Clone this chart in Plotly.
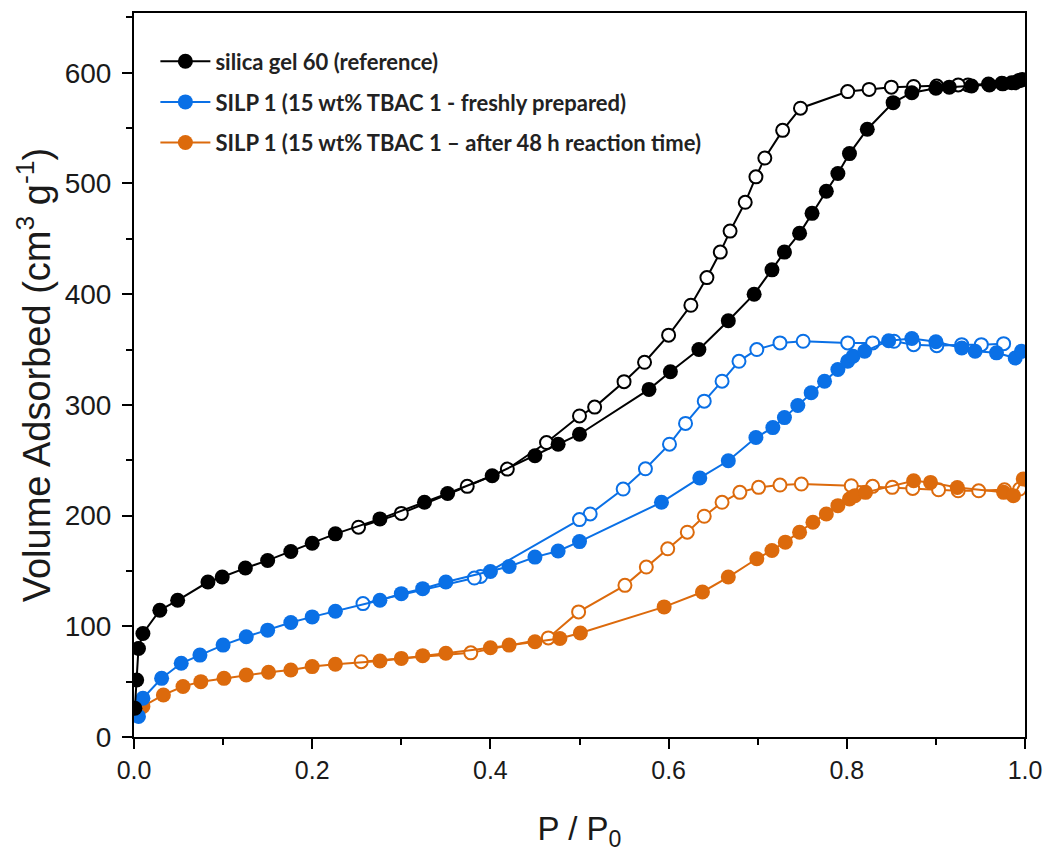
import plotly.graph_objects as go

# N2 physisorption isotherms: adsorption (filled) and desorption (open) branches
silica_ads_x = [0.001, 0.003, 0.005, 0.010, 0.029, 0.049, 0.083, 0.099, 0.125, 0.150, 0.176, 0.200,
                0.226, 0.276, 0.326, 0.352, 0.402, 0.450, 0.476, 0.500, 0.578, 0.602, 0.634, 0.667,
                0.696, 0.716, 0.730, 0.747, 0.761, 0.777, 0.790, 0.803, 0.823, 0.852, 0.873, 0.900,
                0.915, 0.940, 0.960, 0.975, 0.985, 0.993, 0.997]
silica_ads_y = [26, 51.5, 80, 93.5, 114.5, 123.5, 140, 144.5, 152.6, 159.5, 167.5, 175,
                183.5, 197, 212, 220, 236, 254, 264.5, 273.5, 314, 330, 350, 376,
                400, 422, 438, 455, 473, 493, 509, 527, 549, 573, 582, 586,
                587, 588, 589, 590, 591, 593, 594]
silica_des_x = [0.995, 0.989, 0.974, 0.959, 0.936, 0.925, 0.901, 0.875, 0.850, 0.825, 0.801, 0.748,
                0.728, 0.708, 0.698, 0.686, 0.669, 0.658, 0.643, 0.625, 0.600, 0.573, 0.550, 0.517,
                0.500, 0.463, 0.419, 0.374, 0.300, 0.252]
silica_des_y = [593, 591, 590.6, 589.8, 589, 589, 588, 587.6, 587, 585, 583, 568,
                548, 523, 506, 483, 457, 438, 415, 390, 363, 338.5, 321, 298,
                290, 266, 242, 226.4, 202, 189.5]

fresh_ads_x = [0.005, 0.010, 0.031, 0.053, 0.074, 0.100, 0.126, 0.150, 0.176, 0.200, 0.226, 0.276,
               0.300, 0.324, 0.350, 0.400, 0.421, 0.450, 0.476, 0.500, 0.592, 0.635, 0.667, 0.698,
               0.717, 0.730, 0.745, 0.760, 0.775, 0.790, 0.801, 0.807, 0.820, 0.847, 0.873, 0.900,
               0.929, 0.944, 0.968, 0.989, 0.996]
fresh_ads_y = [18.6, 35, 53, 66.6, 74, 83, 90.6, 96.5, 103.4, 108.5, 113.6, 123.5,
               129.5, 134, 140, 149.5, 154, 162.5, 168, 176.5, 212, 234, 249.5, 270.5,
               279.5, 288.5, 299.5, 311, 321.4, 332, 339.4, 344, 348.4, 358, 360, 357,
               351.4, 348.4, 347, 342.3, 348.4]
fresh_des_x = [0.976, 0.951, 0.929, 0.901, 0.875, 0.853, 0.829, 0.801, 0.751, 0.725, 0.699, 0.679,
               0.660, 0.640, 0.619, 0.601, 0.574, 0.549, 0.512, 0.500, 0.389, 0.382, 0.257]
fresh_des_y = [355.3, 354.4, 354.4, 353.5, 354.4, 357.5, 356, 356, 357.5, 356, 350, 339.4,
               321.4, 303.4, 283.3, 264.5, 242.3, 224, 201.5, 196.4, 145, 143.6, 120.5]

used_ads_x = [0.003, 0.010, 0.033, 0.055, 0.075, 0.101, 0.126, 0.151, 0.176, 0.200, 0.226, 0.276,
              0.300, 0.324, 0.350, 0.400, 0.421, 0.450, 0.478, 0.501, 0.595, 0.638, 0.667, 0.699,
              0.716, 0.731, 0.747, 0.762, 0.777, 0.790, 0.803, 0.809, 0.821, 0.875, 0.894, 0.924,
              0.976, 0.987, 0.998]
used_ads_y = [25, 27.6, 38, 45.6, 50, 53, 56, 58.5, 60.5, 63.6, 65.7, 68.6,
              71, 73.5, 75.6, 80.6, 83, 86, 89, 94, 117.5, 131, 144.5, 161,
              168.5, 176, 185, 194, 201.5, 209, 215, 218, 221, 231.5, 230, 225.4,
              221, 218, 233]
used_des_x = [0.994, 0.977, 0.948, 0.925, 0.903, 0.874, 0.851, 0.829, 0.805, 0.749, 0.725, 0.701,
              0.680, 0.660, 0.640, 0.621, 0.599, 0.575, 0.551, 0.499, 0.465, 0.378, 0.255]
used_des_y = [224, 223.3, 222.4, 222.4, 223.3, 224.5, 225.5, 226.4, 227, 228.5, 227.6, 225.5,
              221, 212, 199.4, 185, 170, 153.5, 137, 113, 89.5, 76, 68]

series_names = [
    "silica gel 60 (reference)",
    "SILP 1 (15 wt% TBAC 1 - freshly prepared)",
    "SILP 1 (15 wt% TBAC 1 \u2013 after 48 h reaction time)",
]
series_colors = ["#000000", "#0A70E6", "#DC6A0C"]

ads_sets = [(silica_ads_x, silica_ads_y), (fresh_ads_x, fresh_ads_y), (used_ads_x, used_ads_y)]
des_sets = [(silica_des_x, silica_des_y), (fresh_des_x, fresh_des_y), (used_des_x, used_des_y)]

fig = go.Figure()

# draw back-to-front: orange, blue, black
for i in [2, 1, 0]:
    color = series_colors[i]
    dx, dy = des_sets[i]
    fig.add_trace(go.Scatter(
        x=dx, y=dy, mode="lines+markers", showlegend=False,
        line=dict(color=color, width=2),
        marker=dict(symbol="circle", size=13, color="white", line=dict(color=color, width=2)),
    ))
    ax, ay = ads_sets[i]
    fig.add_trace(go.Scatter(
        x=ax, y=ay, mode="lines+markers", name=series_names[i],
        legendgroup=f"g{i}", legendrank=i + 1,
        line=dict(color=color, width=2),
        marker=dict(symbol="circle", size=15, color=color, line=dict(width=0)),
    ))

sans = "Liberation Sans, Arial, sans-serif"

axis_common = dict(
    showline=True, linecolor="black", linewidth=2, mirror=True,
    showgrid=False, zeroline=False,
    ticks="outside", ticklen=10, tickwidth=2, tickcolor="black",
)

fig.update_xaxes(
    range=[0, 1], dtick=0.2, tickformat=".1f",
    tickfont=dict(family=sans, size=25, color="#1a1a1a"),
    minor=dict(dtick=0.1, ticks="outside", ticklen=6, tickwidth=2, tickcolor="black"),
    title=dict(text="P / P<sub>0</sub>", font=dict(family=sans, size=33, color="#1a1a1a"), standoff=34),
    **axis_common,
)
fig.update_yaxes(
    range=[0, 654], dtick=100,
    tickfont=dict(family=sans, size=28, color="#1a1a1a"),
    ticklabelstandoff=5,
    minor=dict(dtick=50, ticks="outside", ticklen=6, tickwidth=2, tickcolor="black"),
    title=dict(text="Volume Adsorbed (cm<sup>3</sup> g<sup>-1</sup>)", font=dict(family=sans, size=38, color="#1a1a1a"), standoff=2),
    **axis_common,
)

fig.update_layout(
    width=1053, height=852,
    margin=dict(l=134, r=21, t=11, b=113),
    paper_bgcolor="white", plot_bgcolor="white",
    legend=dict(
        x=0.024, y=0.962, xanchor="left", yanchor="top",
        bgcolor="rgba(0,0,0,0)", borderwidth=0,
        traceorder="grouped", tracegroupgap=9, itemwidth=50,
        font=dict(family="Lato, Open Sans, sans-serif", size=22, color="#222222", weight="bold"),
    ),
)

fig.write_html("out.html")
